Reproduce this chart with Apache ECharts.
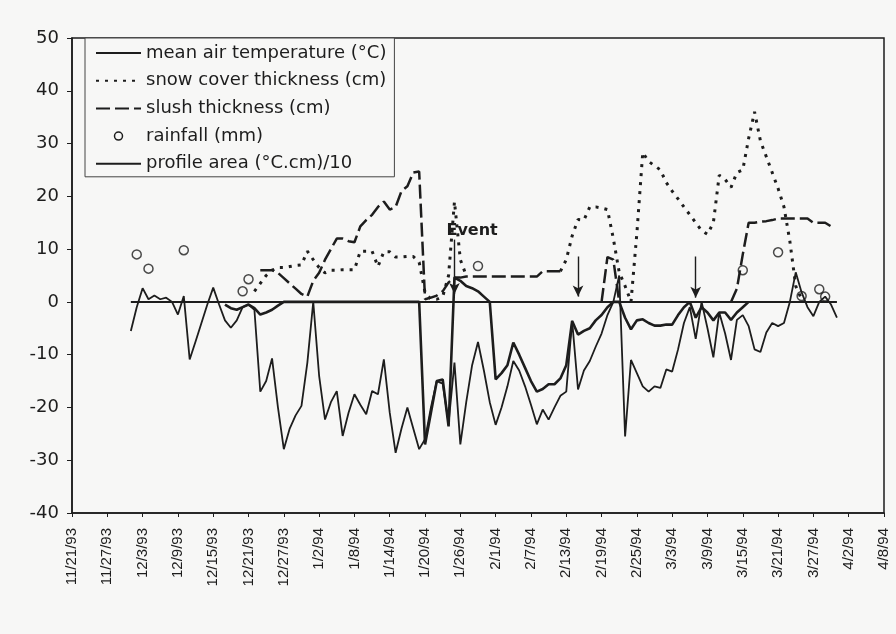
<!DOCTYPE html>
<html><head><meta charset="utf-8">
<script src="https://cdn.jsdelivr.net/npm/echarts@6/dist/echarts.min.js"></script>
<style>html,body{margin:0;padding:0;background:#f7f7f6}#c{width:896px;height:634px}</style>
</head><body><div id="c"></div>
<script>
// ---- axis setup ----
const firstDate = '11/21/93';
const dayCount = 139;            // 11/21/93 .. 4/8/94, daily categories
const tickEvery = 6;             // tick labels every 6 days
const yMin = -40, yMax = 50, yStep = 10;

// ---- data (daily values, each series starting at its start date) ----
const airTempStart = '12/1/93';
const airTemp = [
  -5.5, -1, 2.6, 0.5, 1.2, 0.5, 0.8, 0, -2.4, 1.1,
  -10.9, -7.5, -4, -0.5, 2.7, -0.5, -3.5, -4.9, -3.5, -1,
  -0.5, -1.5, -17, -15, -10.7, -20, -27.9, -24, -21.5, -19.7,
  -11.5, 0, -14, -22.3, -19, -16.9, -25.4, -21, -17.5, -19.5,
  -21.3, -16.9, -17.5, -10.9, -21, -28.6, -24, -20, -24, -27.9,
  -26, -20, -15, -15.5, -23, -11.5, -27, -19, -12, -7.6,
  -13, -19, -23.3, -20, -16, -11.2, -13, -16, -19.5, -23.2,
  -20.4, -22.3, -20, -17.8, -17, -3.6, -16.6, -13, -11.2, -8.5,
  -6, -2.5, 0, 5, -25.5, -11, -13.5, -16, -17, -16,
  -16.3, -12.8, -13.2, -9, -4, -1, -7, 0, -5, -10.5,
  -2, -6, -11, -3.4, -2.5, -4.6, -9, -9.5, -5.8, -4,
  -4.6, -4, 0, 5.6, 1.8, -1, -2.7, 0, 1, -0.5,
  -3
];

const snowStart = '12/22/93';
const snow = [
  2, 3.5, 5, 6, 6.5, 6.5, 6.7, 6.9, 7, 9.6,
  8, 6.5, 5.5, 6, 6, 6.1, 6.1, 6.1, 9.6, 9.6,
  9.6, 6.7, 9.5, 9.5, 8.5, 8.5, 8.6, 8.6, 7.5, 1.8,
  0.5, 0.5, 1, 5, 19, 8, 5,
  null, null, null, null, null, null, null, null, null, null,
  null, null, null, null, null,
  5.8, 8, 12.5, 15.6, 15.5, 18, 18, 17.8,
  17.5, 12, 5.6, 3, 0, 13, 28.3, 26.6, 25.8, 25,
  22.6, 21, 19.5, 18, 16.5, 15, 13.5, 12.8, 15, 24,
  23.2, 21.7, 24.5, 25, 31, 36, 30.5, 27.5, 24.5, 21.5,
  18, 11.5, 3, 0.5
];

const slushStart = '12/23/93';
const slush = [
  6, 6, 6, 5.5, 4.5, 3.5, 2.5, 1.5, 1, 4,
  5.5, 8, 10, 12, 12, 11.5, 11.3, 14.3, 15.5, 16.5,
  18, 19, 17.5, 18, 21, 21.9, 24.5, 24.7, 0.5, 0.8,
  1.2, 2, 3.7, 4.6, 4.6, 4.8, 4.8, 4.8, 4.8, 4.8,
  4.8, 4.8, 4.8, 4.8, 4.8, 4.8, 4.8, 4.8, 5.8, 5.8,
  5.8, 5.8,
  null, null, null, null, null, null,
  0, 8.5, 8, 0,
  null, null, null, null, null, null, null, null, null, null,
  null, null, null, null, null, null, null, null,
  0, 2.5, 9, 15, 15, 15.2, 15.3, 15.5, 15.8, 15.8,
  15.8, 15.8, 15.8, 15.8, 15, 15, 15, 14.3
];

const rainfallDates  = ['12/2/93', '12/4/93', '12/10/93', '12/20/93', '12/21/93', '1/29/94', '3/15/94', '3/21/94', '3/25/94', '3/28/94', '3/29/94'];
const rainfallValues = [9, 6.3, 9.8, 2, 4.3, 6.8, 6, 9.4, 1.1, 2.4, 1];

const profileStart = '12/17/93';
const profile = [
  -0.5, -1.2, -1.5, -1, -0.5, -1.2, -2.4, -2, -1.5, -0.7,
  0, 0, 0, 0, 0, 0, 0, 0, 0, 0,
  0, 0, 0, 0, 0, 0, 0, 0, 0, 0,
  0, 0, 0, 0, -27, -21, -15, -14.7, -23.6, 4.6,
  4, 3, 2.6, 2, 1, 0, -14.7, -13.5, -12, -7.7,
  -10, -12.5, -15, -17, -16.5, -15.6, -15.6, -14.5, -12, -3.6,
  -6.2, -5.5, -5, -3.5, -2.5, -1, 0, 0, -3, -5.2,
  -3.5, -3.3, -4, -4.5, -4.5, -4.3, -4.3, -2.5, -1, 0,
  -3, -1, -2, -3.5, -2, -2, -3.4, -2, -1, 0
];

// reference zero line span and annotations
const zeroLineSpan = ['12/1/93', '3/31/94'];
const arrows = [ { date: '1/25/94', from: 11.8, to: 1.5 },
                 { date: '2/15/94', from: 8.6, to: 1 },
                 { date: '3/7/94',  from: 8.6, to: 0.8 } ];
const eventLabel = { date: '1/28/94', value: 13.5, text: 'Event' };

const names = ['mean air temperature (°C)', 'snow cover thickness (cm)', 'slush thickness (cm)', 'rainfall (mm)', 'profile area (°C.cm)/10'];

// ---- build categories ----
function fmt(d){ return (d.getMonth()+1) + '/' + d.getDate() + '/' + String(d.getFullYear()).slice(2); }
const categories = [];
{
  const p = firstDate.split('/').map(Number);
  const base = new Date(1900 + p[2], p[0]-1, p[1]);
  for (let i = 0; i < dayCount; i++) {
    const d = new Date(base.getFullYear(), base.getMonth(), base.getDate() + i);
    categories.push(fmt(d));
  }
}
function pairs(start, values){
  const i0 = categories.indexOf(start);
  return values.map((v, k) => [categories[i0 + k], v === null ? '-' : v]);
}

const ink = '#1d1d1d';
const chart = echarts.init(document.getElementById('c'));
chart.setOption({
  backgroundColor: '#f7f7f6',
  animation: false,
  grid: { left: 72, right: 12, top: 38, bottom: 121, show: true, borderColor: ink, borderWidth: 1.5 },
  legend: {
    orient: 'vertical', left: 85, top: 38,
    itemWidth: 45, itemHeight: 8, itemGap: 9.7,
    padding: [6, 8, 4, 10],
    backgroundColor: '#f7f7f6', borderColor: '#444', borderWidth: 1,
    selectedMode: false,
    itemStyle: { opacity: 0 },
    textStyle: { fontFamily: 'DejaVu Sans', fontSize: 18, color: ink, lineHeight: 18 },
    data: [
      names[0], names[1], names[2],
      { name: names[3], icon: 'circle', itemStyle: { opacity: 1, color: 'rgba(0,0,0,0)', borderColor: ink, borderWidth: 1.5 } },
      names[4]
    ]
  },
  xAxis: {
    type: 'category', data: categories, boundaryGap: false,
    axisLine: { onZero: false, lineStyle: { color: ink, width: 1.5 } },
    axisTick: { interval: tickEvery - 1, length: 4, lineStyle: { color: ink } },
    axisLabel: { interval: tickEvery - 1, rotate: 90, margin: 15, fontSize: 15, fontFamily: 'Liberation Sans', color: ink },
    splitLine: { show: false }
  },
  yAxis: {
    type: 'value', min: yMin, max: yMax, interval: yStep,
    axisLine: { show: true, lineStyle: { color: ink, width: 1.5 } },
    axisTick: { show: true, length: 5, lineStyle: { color: ink } },
    axisLabel: { margin: 13, fontSize: 18, fontFamily: 'DejaVu Sans', color: ink },
    splitLine: { show: false }
  },
  series: [
    { name: names[0], type: 'line', data: pairs(airTempStart, airTemp), symbol: 'none', z: 3,
      itemStyle: { color: ink }, lineStyle: { color: ink, width: 1.8 } },
    { name: names[1], type: 'line', data: pairs(snowStart, snow), symbol: 'none', z: 3,
      itemStyle: { color: ink }, lineStyle: { color: ink, width: 3, type: [3, 6] } },
    { name: names[2], type: 'line', data: pairs(slushStart, slush), symbol: 'none', z: 3, connectNulls: false,
      itemStyle: { color: ink }, lineStyle: { color: ink, width: 2.5, type: [14, 5] } },
    { name: names[3], type: 'scatter', data: rainfallDates.map((d, i) => [d, rainfallValues[i]]),
      symbol: 'circle', symbolSize: 9, z: 5,
      itemStyle: { color: 'rgba(0,0,0,0)', borderColor: ink, borderWidth: 1.5 } },
    { name: names[4], type: 'line', data: pairs(profileStart, profile), symbol: 'none', z: 4,
      itemStyle: { color: ink }, lineStyle: { color: ink, width: 2.6 },
      markLine: {
        silent: true, animation: false, label: { show: false },
        data: [
          [ { coord: [zeroLineSpan[0], 0], symbol: 'none', lineStyle: { color: ink, width: 2, type: 'solid' } },
            { coord: [zeroLineSpan[1], 0], symbol: 'none' } ]
        ].concat(arrows.map(a => [
          { coord: [a.date, a.from], symbol: 'none', lineStyle: { color: ink, width: 1.4, type: 'solid' } },
          { coord: [a.date, a.to], symbol: 'arrow', symbolSize: [8, 11] }
        ]))
      },
      markPoint: {
        silent: true, animation: false,
        data: [ { coord: [eventLabel.date, eventLabel.value], symbol: 'circle', symbolSize: 1,
                  itemStyle: { color: 'rgba(0,0,0,0)' },
                  label: { show: true, position: 'inside', formatter: eventLabel.text,
                           fontFamily: 'DejaVu Sans', fontWeight: 'bold', fontSize: 16, color: ink } } ]
      }
    }
  ]
});
</script></body></html>
